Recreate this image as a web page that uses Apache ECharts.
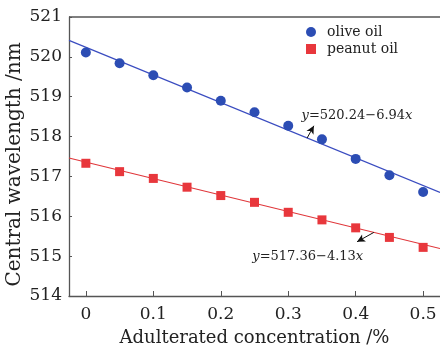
<!DOCTYPE html>
<html>
<head>
<meta charset="utf-8">
<script src="https://cdn.jsdelivr.net/npm/echarts@6/dist/echarts.min.js"></script>
<style>
  html, body { margin: 0; padding: 0; background: #fff; }
  #chart { width: 440px; height: 354px; }
</style>
</head>
<body>
<div id="chart"></div>
<script>
// Adulteration concentration (%)
const concentration = [0, 0.05, 0.10, 0.15, 0.20, 0.25, 0.30, 0.35, 0.40, 0.45, 0.50];
// Central wavelength (nm) measured for each oil
const oliveOil  = [520.11, 519.84, 519.54, 519.23, 518.90, 518.61, 518.27, 517.93, 517.44, 517.03, 516.61];
const peanutOil = [517.33, 517.12, 516.95, 516.73, 516.52, 516.35, 516.10, 515.91, 515.71, 515.47, 515.22];
// Linear fits: y = intercept + slope * x
const oliveFit  = { intercept: 520.24, slope: -6.94 };
const peanutFit = { intercept: 517.36, slope: -4.13 };
const xTicks = [0, 0.1, 0.2, 0.3, 0.4, 0.5];
const yTicks = [514, 515, 516, 517, 518, 519, 520, 521];

const X_MIN = -0.025, X_MAX = 0.525;
const FONT = '"DejaVu Serif", serif';

function fitLine(f) {
  return [X_MIN, X_MAX].map(x => [x, f.intercept + f.slope * x]);
}
function eqText(f) {
  return '{i|y}=' + f.intercept.toFixed(2) + '\u2212' + Math.abs(f.slope).toFixed(2) + '{i|x}';
}
function atFit(f, x) { return [x, f.intercept + f.slope * x]; }

const BLUE = '#2c4db4', RED = '#e8373c';
const AXIS = '#555';

function eqLabel(f) {
  return {
    show: true, position: 'right', distance: 0, formatter: eqText(f),
    fontFamily: FONT, fontSize: 13, color: '#222',
    rich: { i: { fontStyle: 'italic', fontFamily: FONT, fontSize: 13, color: '#222' } }
  };
}

const chart = echarts.init(document.getElementById('chart'));
chart.setOption({
  animation: false,
  grid: { left: 69, right: 0, top: 17, bottom: 58, show: false, outerBoundsMode: 'none' },
  legend: {
    left: 301, top: 20, orient: 'vertical', itemGap: 3,
    itemWidth: 10, itemHeight: 10,
    textStyle: { fontFamily: FONT, fontSize: 14, color: '#222', padding: [0, 0, 0, 6] },
    data: [
      { name: 'olive oil', icon: 'circle' },
      { name: 'peanut oil', icon: 'rect' }
    ]
  },
  xAxis: {
    type: 'value', min: X_MIN, max: X_MAX,
    name: 'Adulterated concentration /%', nameLocation: 'middle', nameGap: 33,
    nameTextStyle: { fontFamily: FONT, fontSize: 18, color: '#222' },
    axisLine: { onZero: false, lineStyle: { color: AXIS, width: 1.3 } },
    axisTick: { inside: true, length: 5, lineStyle: { color: AXIS },
      customValues: xTicks },
    axisLabel: { fontFamily: FONT, fontSize: 17, color: '#222', margin: 10,
      customValues: xTicks, formatter: v => String(+v.toFixed(2)) },
    splitLine: { show: false }
  },
  yAxis: {
    type: 'value', min: 514, max: 521, interval: 1,
    name: 'Central wavelength /nm', nameLocation: 'middle', nameGap: 44,
    nameMoveOverlap: false,
    nameTextStyle: { fontFamily: FONT, fontSize: 20, color: '#222', padding: [0, 16, 0, 0] },
    axisLine: { show: true, onZero: false, lineStyle: { color: AXIS, width: 1.3 } },
    axisTick: { show: true, inside: true, length: 3, lineStyle: { color: AXIS } },
    axisLabel: { fontFamily: FONT, fontSize: 17, color: '#222', margin: 7,
      formatter: v => yTicks.includes(v) ? String(v) : '' },
    splitLine: { show: false }
  },
  series: [
    {
      name: 'olive-fit', type: 'line', data: fitLine(oliveFit),
      symbol: 'none', lineStyle: { color: '#3a4cc0', width: 1.2 }, z: 1,
      markPoint: {
        symbol: 'circle', symbolSize: 1, itemStyle: { color: 'rgba(0,0,0,0)' },
        data: [{ coord: [0.319, 518.52], label: eqLabel(oliveFit) }]
      },
      markLine: {
        silent: true, symbol: ['none', 'arrow'], symbolSize: [6, 8],
        lineStyle: { color: '#111', width: 1, type: 'solid' }, label: { show: false },
        data: [[{ coord: atFit(oliveFit, 0.328) }, { coord: [0.338, 518.27] }]]
      }
    },
    {
      name: 'peanut-fit', type: 'line', data: fitLine(peanutFit),
      symbol: 'none', lineStyle: { color: '#e0363a', width: 1.2 }, z: 1,
      markPoint: {
        symbol: 'circle', symbolSize: 1, itemStyle: { color: 'rgba(0,0,0,0)' },
        data: [{ coord: [0.246, 514.98], label: eqLabel(peanutFit) }]
      },
      markLine: {
        silent: true, symbol: ['none', 'arrow'], symbolSize: [6, 8],
        lineStyle: { color: '#111', width: 1, type: 'solid' }, label: { show: false },
        data: [[{ coord: atFit(peanutFit, 0.427) }, { coord: [0.402, 515.36] }]]
      }
    },
    {
      name: 'olive oil', type: 'scatter', symbol: 'circle', symbolSize: 10,
      itemStyle: { color: BLUE, opacity: 1 }, z: 3,
      data: concentration.map((x, i) => [x, oliveOil[i]])
    },
    {
      name: 'peanut oil', type: 'scatter', symbol: 'rect', symbolSize: 9,
      itemStyle: { color: RED, opacity: 1 }, z: 3,
      data: concentration.map((x, i) => [x, peanutOil[i]])
    }
  ]
});

// top frame edge of the plot
const frameL = chart.convertToPixel({ gridIndex: 0 }, [X_MIN, 521]);
const frameR = chart.convertToPixel({ gridIndex: 0 }, [X_MAX, 521]);
chart.setOption({
  graphic: [{
    type: 'line', silent: true,
    shape: { x1: frameL[0], y1: frameL[1], x2: frameR[0], y2: frameR[1] },
    style: { stroke: AXIS, lineWidth: 1.3 }
  }]
});
</script>
</body>
</html>
